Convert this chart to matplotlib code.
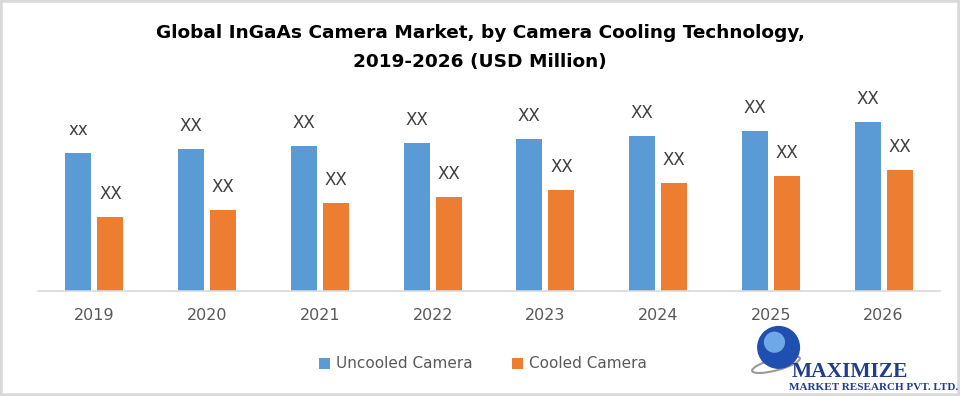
import matplotlib.pyplot as plt
import matplotlib.patches as mpatches
from matplotlib import font_manager
import numpy as np

years = ['2019', '2020', '2021', '2022', '2023', '2024', '2025', '2026']
uncooled = [138, 142, 145, 148, 152, 155, 160, 169]
cooled = [74, 81, 88, 94, 101, 108, 115, 121]
uncooled_labels = ['xx', 'XX', 'XX', 'XX', 'XX', 'XX', 'XX', 'XX']
cooled_labels = ['XX'] * 8

blue = '#5B9BD5'
orange = '#ED7D31'
text_gray = '#404040'

names = {f.name for f in font_manager.fontManager.ttflist}
title_font = 'Liberation Sans Narrow' if 'Liberation Sans Narrow' in names else 'DejaVu Sans'
title_size = 16 if title_font == 'Liberation Sans Narrow' else 13.3

plt.rcParams['font.family'] = ['DejaVu Sans']

fig = plt.figure(figsize=(9.6, 3.96), dpi=100)
fig.patch.set_facecolor('white')
# gray frame around the picture
fig.patches.append(mpatches.Rectangle((0, 0), 1, 1, transform=fig.transFigure,
                                      fill=False, edgecolor='#D9D9D9', linewidth=4))

ax = fig.add_axes([38 / 960, 105 / 396, 902 / 960, 200 / 396])
x = np.arange(len(years))
w = 0.23
off = 0.142
b1 = ax.bar(x - off, uncooled, w, color=blue, label='Uncooled Camera')
b2 = ax.bar(x + off, cooled, w, color=orange, label='Cooled Camera')

for rect, lab in zip(b1, uncooled_labels):
    ax.annotate(lab, (rect.get_x() + rect.get_width() / 2, rect.get_height()),
                xytext=(0, 10), textcoords='offset points', ha='center', va='bottom',
                fontsize=12, color=text_gray)
for rect, lab in zip(b2, cooled_labels):
    ax.annotate(lab, (rect.get_x() + rect.get_width() / 2, rect.get_height()),
                xytext=(0, 10), textcoords='offset points', ha='center', va='bottom',
                fontsize=12, color=text_gray)

ax.set_xlim(-0.5, len(years) - 0.5)
ax.set_ylim(0, 200)
ax.set_xticks(x)
ax.set_xticklabels(years, fontsize=11.5, color='#595959')
ax.tick_params(axis='x', length=0, pad=12)
ax.set_yticks([])
for s in ['top', 'right', 'left']:
    ax.spines[s].set_visible(False)
ax.spines['bottom'].set_color('#D9D9D9')
ax.spines['bottom'].set_linewidth(1.2)

fig.text(0.5, 1 - 33 / 396, 'Global InGaAs Camera Market, by Camera Cooling Technology,',
         ha='center', va='center', fontsize=title_size, fontweight='bold', color='black',
         family=title_font)
fig.text(0.5, 1 - 62 / 396, '2019-2026 (USD Million)',
         ha='center', va='center', fontsize=title_size, fontweight='bold', color='black',
         family=title_font)

fig.legend(handles=[b1, b2], loc='center', bbox_to_anchor=(483 / 960, 1 - 364 / 396),
           ncol=2, frameon=False, handlelength=0.7, handleheight=0.7,
           columnspacing=2.6, handletextpad=0.4,
           prop={'size': 11}, labelcolor='#595959')

# logo
logo = fig.add_axes([750 / 960, 20 / 396, 52 / 960, 52 / 396])
logo.add_patch(mpatches.Ellipse((0.5, 0.22), 0.95, 0.22, angle=15, fill=False,
                                edgecolor='#9A9A9A', linewidth=1.5))
logo.add_patch(mpatches.Circle((0.55, 0.55), 0.4, color='#1F4FB0'))
logo.add_patch(mpatches.Circle((0.47, 0.65), 0.19, color='#6FA8E8'))
logo.set_xlim(0, 1)
logo.set_ylim(0, 1)
logo.set_aspect('equal')
logo.axis('off')
serif = ['Liberation Serif', 'DejaVu Serif']
fig.text(792 / 960, 1 - 372 / 396, 'MAXIMIZE', ha='left', va='center', fontsize=15.5,
         family=serif, color='#1F3D8C', fontweight='bold')
fig.text(789 / 960, 1 - 388 / 396, 'MARKET RESEARCH PVT. LTD.', ha='left', va='center',
         fontsize=8, family=serif, color='#1F3D8C', fontweight='bold')

fig.savefig('out.png', dpi=100)
